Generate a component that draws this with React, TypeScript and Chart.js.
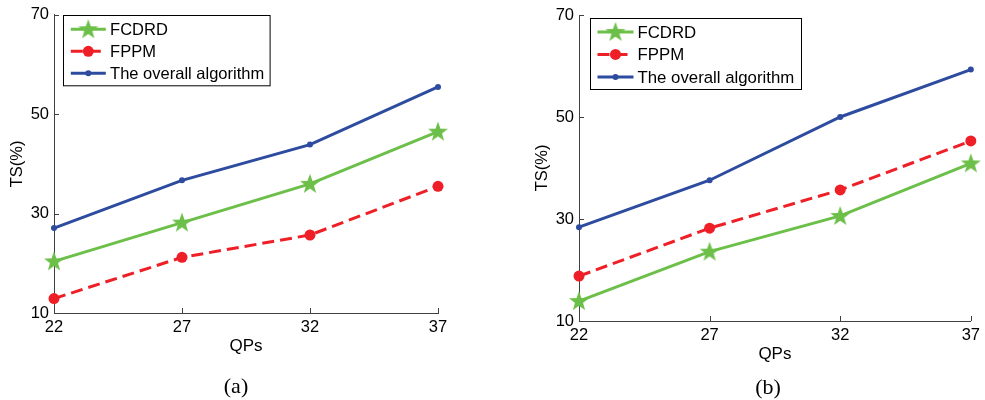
import React, { useEffect, useRef } from 'react';
import { Chart, registerables } from 'chart.js';

Chart.register(...registerables);

// ---------------- data ----------------
const QPS = ['22', '27', '32', '37'];
const Y_TICKS = [10, 30, 50, 70];
const SERIES_NAMES = ['FCDRD', 'FPPM', 'The overall algorithm'];

const FCDRD_A = [20.4, 28.2, 36.0, 46.5];
const FPPM_A = [12.9, 21.2, 25.7, 35.5];
const OVERALL_A = [27.1, 36.7, 43.9, 55.5];

const FCDRD_B = [13.9, 23.6, 30.6, 40.9];
const FPPM_B = [18.8, 28.2, 35.7, 45.3];
const OVERALL_B = [28.4, 37.6, 50.0, 59.3];

const X_TITLE = 'QPs';
const Y_TITLE = 'TS(%)';
const PANEL_LABELS = ['(a)', '(b)'];

// ---------------- styles ----------------
const GREEN = '#6cbf48';
const RED = '#ee1f26';
const BLUE = '#2d4c9f';
const AXIS = '#404040';
const FONT = '"Liberation Sans", Arial, Helvetica, sans-serif';

function makeStar(color: string): HTMLCanvasElement {
  const c = document.createElement('canvas');
  c.width = 24;
  c.height = 24;
  const ctx = c.getContext('2d')!;
  const cx = 12, cy = 12.5, R = 10.5, r = 4.2;
  ctx.beginPath();
  for (let i = 0; i < 10; i++) {
    const rad = i % 2 === 0 ? R : r;
    const a = -Math.PI / 2 + (i * Math.PI) / 5;
    const x = cx + rad * Math.cos(a);
    const y = cy + rad * Math.sin(a);
    if (i === 0) ctx.moveTo(x, y);
    else ctx.lineTo(x, y);
  }
  ctx.closePath();
  ctx.fillStyle = color;
  ctx.fill();
  return c;
}

type LegendCfg = { dx: number; dy: number; l0: number; l1: number; tx: number; rows: number[]; w: number; h: number; font: number };
type PanelCfg = {
  left: number;
  width: number;
  height: number;
  pad: { left: number; top: number; right: number; bottom: number };
  yAxisW: number;
  xAxisH: number;
  legend: LegendCfg;
};

function makeAxisTicksPlugin() {
  return {
    id: 'inwardTicks',
    afterDraw(chart: any) {
      const { ctx, chartArea, scales } = chart;
      const xs = scales.x, ys = scales.y;
      ctx.save();
      ctx.strokeStyle = AXIS;
      ctx.lineWidth = 1;
      ctx.beginPath();
      xs.ticks.forEach((_t: any, i: number) => {
        const px = Math.round(xs.getPixelForTick(i)) + 0.5;
        ctx.moveTo(px, chartArea.bottom);
        ctx.lineTo(px, chartArea.bottom - 5);
      });
      ys.ticks.forEach((t: any) => {
        const py = Math.round(ys.getPixelForValue(t.value)) + 0.5;
        ctx.moveTo(chartArea.left, py);
        ctx.lineTo(chartArea.left + 5, py);
      });
      ctx.stroke();
      ctx.restore();
    },
  };
}

function makeLegendPlugin(L: LegendCfg) {
  return {
    id: 'boxLegend',
    afterDraw(chart: any) {
      const { ctx, chartArea } = chart;
      const x0 = Math.round(chartArea.left + L.dx) + 0.5;
      const y0 = Math.round(chartArea.top + L.dy) + 0.5;
      ctx.save();
      ctx.fillStyle = '#fff';
      ctx.fillRect(x0, y0, L.w, L.h);
      ctx.strokeStyle = '#000';
      ctx.lineWidth = 1;
      ctx.strokeRect(x0, y0, L.w, L.h);
      chart.data.datasets.forEach((ds: any, i: number) => {
        const y = y0 + L.rows[i];
        ctx.strokeStyle = ds.borderColor;
        ctx.lineWidth = ds.borderWidth;
        ctx.setLineDash(ds.borderDash || []);
        ctx.beginPath();
        ctx.moveTo(x0 + L.l0, y);
        ctx.lineTo(x0 + L.l1, y);
        ctx.stroke();
        ctx.setLineDash([]);
        const mx = x0 + (L.l0 + L.l1) / 2;
        if (ds.pointStyle instanceof HTMLCanvasElement) {
          const img = ds.pointStyle as HTMLCanvasElement;
          ctx.drawImage(img, mx - img.width / 2, y - img.height / 2);
        } else {
          ctx.fillStyle = ds.pointBackgroundColor;
          ctx.beginPath();
          ctx.arc(mx, y, ds.pointRadius, 0, Math.PI * 2);
          ctx.fill();
        }
        ctx.fillStyle = '#000';
        ctx.font = `${L.font}px ${FONT}`;
        ctx.textBaseline = 'middle';
        ctx.textAlign = 'left';
        ctx.fillText(ds.label, x0 + L.tx, y + 1);
      });
      ctx.restore();
    },
  };
}

function Panel({ cfg, fcdrd, fppm, overall }: { cfg: PanelCfg; fcdrd: number[]; fppm: number[]; overall: number[] }) {
  const ref = useRef<HTMLCanvasElement>(null);
  useEffect(() => {
    if (!ref.current) return;
    const star = makeStar(GREEN);
    const chart = new Chart(ref.current, {
      type: 'line',
      data: {
        labels: QPS,
        datasets: [
          {
            label: SERIES_NAMES[0],
            data: fcdrd,
            borderColor: GREEN,
            backgroundColor: GREEN,
            borderWidth: 3,
            pointStyle: star as any,
            pointRadius: 10,
            clip: false as any,
          },
          {
            label: SERIES_NAMES[1],
            data: fppm,
            borderColor: RED,
            backgroundColor: RED,
            pointBackgroundColor: RED,
            pointBorderColor: RED,
            borderWidth: 3,
            borderDash: [12, 6],
            pointStyle: 'circle',
            pointRadius: 5.5,
            pointBorderWidth: 0,
            clip: false as any,
          },
          {
            label: SERIES_NAMES[2],
            data: overall,
            borderColor: BLUE,
            backgroundColor: BLUE,
            pointBackgroundColor: BLUE,
            pointBorderColor: BLUE,
            borderWidth: 3,
            pointStyle: 'circle',
            pointRadius: 3,
            pointBorderWidth: 0,
            clip: false as any,
          },
        ],
      },
      options: {
        animation: false,
        responsive: false,
        devicePixelRatio: 1,
        layout: { padding: cfg.pad },
        plugins: { legend: { display: false }, tooltip: { enabled: false } },
        elements: { line: { tension: 0 } },
        scales: {
          x: {
            type: 'category',
            offset: false,
            grid: { display: false, drawTicks: false, offset: false },
            border: { display: true, color: AXIS, width: 1 },
            ticks: { color: '#000', font: { family: FONT, size: 16.5 }, padding: 5, maxRotation: 0, autoSkip: false },
            title: { display: true, text: X_TITLE, color: '#000', font: { family: FONT, size: 17 }, padding: 0 },
            afterFit: (s: any) => {
              s.height = cfg.xAxisH;
            },
          },
          y: {
            type: 'linear',
            min: 10,
            max: 70,
            grid: { display: false, drawTicks: false },
            border: { display: true, color: AXIS, width: 1 },
            ticks: { color: '#000', font: { family: FONT, size: 16.5 }, padding: 5 },
            afterBuildTicks: (s: any) => {
              s.ticks = Y_TICKS.map((v) => ({ value: v }));
            },
            title: { display: true, text: Y_TITLE, color: '#000', font: { family: FONT, size: 16.5 }, padding: 0 },
            afterFit: (s: any) => {
              s.width = cfg.yAxisW;
            },
          },
        },
      },
      plugins: [makeAxisTicksPlugin(), makeLegendPlugin(cfg.legend)],
    });
    return () => chart.destroy();
  }, []);
  return (
    <canvas
      ref={ref}
      width={cfg.width}
      height={cfg.height}
      style={{ position: 'absolute', left: cfg.left, top: 0, width: cfg.width, height: cfg.height }}
    />
  );
}

const CFG_A: PanelCfg = {
  left: 0,
  width: 480,
  height: 400,
  pad: { left: 7.4, top: 14, right: 42, bottom: 43.4 },
  yAxisW: 46.6,
  xAxisH: 43.6,
  legend: { dx: 8.7, dy: 0, l0: 7.3, l1: 42.3, tx: 46.6, rows: [13.7, 35.8, 57.8], w: 206.6, h: 70.3, font: 16.5 },
};

const CFG_B: PanelCfg = {
  left: 490,
  width: 495,
  height: 400,
  pad: { left: 42.1, top: 15, right: 13, bottom: 35.4 },
  yAxisW: 46.9,
  xAxisH: 43.6,
  legend: { dx: 11, dy: 3.3, l0: 7, l1: 43, tx: 47, rows: [13.4, 35.9, 58.4], w: 211, h: 71, font: 16.8 },
};

export default function App() {
  return (
    <div style={{ position: 'absolute', left: 0, top: 0, width: 985, height: 400, background: '#fff', overflow: 'hidden' }}>
      <Panel cfg={CFG_A} fcdrd={FCDRD_A} fppm={FPPM_A} overall={OVERALL_A} />
      <Panel cfg={CFG_B} fcdrd={FCDRD_B} fppm={FPPM_B} overall={OVERALL_B} />
      <div
        style={{
          position: 'absolute',
          left: 236,
          top: 386,
          transform: 'translate(-50%, -50%)',
          fontFamily: '"Liberation Serif", "Times New Roman", serif',
          fontSize: 22,
          color: '#000',
          whiteSpace: 'nowrap',
        }}
      >
        {PANEL_LABELS[0]}
      </div>
      <div
        style={{
          position: 'absolute',
          left: 768,
          top: 387,
          transform: 'translate(-50%, -50%)',
          fontFamily: '"Liberation Serif", "Times New Roman", serif',
          fontSize: 22,
          color: '#000',
          whiteSpace: 'nowrap',
        }}
      >
        {PANEL_LABELS[1]}
      </div>
    </div>
  );
}
